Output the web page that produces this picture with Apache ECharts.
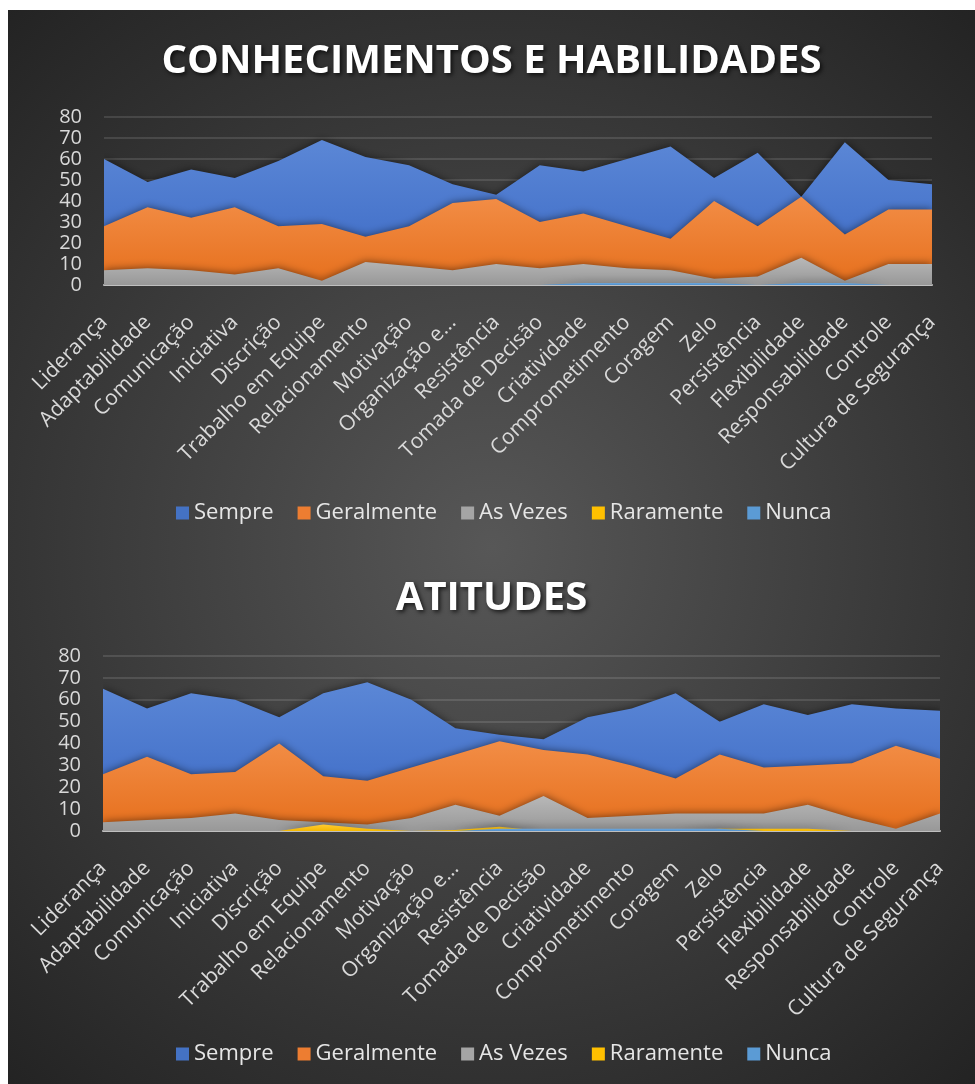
<!DOCTYPE html>
<html>
<head>
<meta charset="utf-8">
<script src="https://cdn.jsdelivr.net/npm/echarts@6/dist/echarts.min.js"></script>
<style>
  html, body { margin: 0; padding: 0; background: #fff; }
  #chart { position: absolute; left: 8px; top: 10px; width: 967px; height: 1074px; }
</style>
</head>
<body>
<div id="chart"></div>
<script>
const categories = ['Liderança', 'Adaptabilidade', 'Comunicação', 'Iniciativa', 'Discrição', 'Trabalho em Equipe', 'Relacionamento', 'Motivação', 'Organização e...', 'Resistência', 'Tomada de Decisão', 'Criatividade', 'Comprometimento', 'Coragem', 'Zelo', 'Persistência', 'Flexibilidade', 'Responsabilidade', 'Controle', 'Cultura de Segurança'];
const seriesNames = ['Sempre', 'Geralmente', 'As Vezes', 'Raramente', 'Nunca'];
const yTicks = [0, 80, 10]; // min, max, interval

// CONHECIMENTOS E HABILIDADES
const sempre1 = [60, 49, 55, 51, 59, 69, 61, 57, 48, 43, 57, 54, 60, 66, 51, 63, 42, 68, 50, 48];
const geralmente1 = [28, 37, 32, 37, 28, 29, 23, 28, 39, 41, 30, 34, 28, 22, 40, 28, 42, 24, 36, 36];
const asVezes1 = [7, 8, 7, 5, 8, 2, 11, 9, 7, 10, 8, 10, 8, 7, 3, 4, 13, 2, 10, 10];
const raramente1 = [0, 0, 0, 0, 0, 0, 0, 0, 0, 0, 0, 0, 0, 0, 0, 0, 0, 0, 0, 0];
const nunca1 = [0, 0, 0, 0, 0, 0, 0, 0, 0, 0, 0, 1, 1, 1, 1, 0, 1, 1, 0, 0];

// ATITUDES
const sempre2 = [65, 56, 63, 60, 52, 63, 68, 60, 47, 44, 42, 52, 56, 63, 50, 58, 53, 58, 56, 55];
const geralmente2 = [26, 34, 26, 27, 40, 25, 23, 29, 35, 41, 37, 35, 30, 24, 35, 29, 30, 31, 39, 33];
const asVezes2 = [4, 5, 6, 8, 5, 4, 3, 6, 12, 7, 16, 6, 7, 8, 8, 8, 12, 6, 1, 8];
const raramente2 = [0, 0, 0, 0, 0, 3, 1, 0, 0.5, 2, 0, 0, 0, 0, 1, 1, 1, 0, 0, 0];
const nunca2 = [0, 0, 0, 0, 0, 0, 0, 0, 0, 1, 1, 1, 1, 1, 1, 0, 0, 0, 0, 0];

const colors = ['#4472C4', '#ED7D31', '#A5A5A5', '#FFC000', '#5B9BD5'];
const gradTop = ['#5B87D6', '#F28D46', '#B8B8B8', '#FFCB33', '#6FA8DC'];
const gradBottom = ['#3A68C4', '#E66F1C', '#989898', '#F5B800', '#4F8FCC'];
const font = 'Open Sans';
const textColor = '#D9D9D9';

const chart = echarts.init(document.getElementById('chart'));

function makeSeries(data, gridIdx) {
  return data.map((vals, i) => ({
    name: seriesNames[i],
    type: 'line',
    xAxisIndex: gridIdx,
    yAxisIndex: gridIdx,
    data: vals,
    showSymbol: false,
    silent: true,
    lineStyle: { width: 0 },
    itemStyle: { color: colors[i] },
    areaStyle: {
      opacity: 1,
      color: new echarts.graphic.LinearGradient(0, 0, 0, 1, [
        { offset: 0, color: gradTop[i] },
        { offset: 1, color: gradBottom[i] }
      ]),
      shadowColor: 'rgba(0,0,0,0.55)',
      shadowBlur: 8
    }
  }));
}

function xAxis(gridIdx) {
  return {
    type: 'category',
    gridIndex: gridIdx,
    data: categories,
    boundaryGap: false,
    axisTick: { show: false },
    axisLine: { lineStyle: { color: '#BFBFBF', width: 2 } },
    axisLabel: { rotate: 45, interval: 0, color: textColor, fontFamily: font, fontSize: 21, margin: 34 }
  };
}

function yAxis(gridIdx) {
  return {
    type: 'value',
    gridIndex: gridIdx,
    min: yTicks[0],
    max: yTicks[1],
    interval: yTicks[2],
    axisLabel: { color: textColor, fontFamily: font, fontSize: 20, margin: 22 },
    splitLine: { lineStyle: { color: 'rgba(255,255,255,0.16)', width: 1.5 } }
  };
}

function legend(top) {
  return {
    top: top,
    left: 163,
    data: seriesNames,
    icon: 'rect',
    itemWidth: 13,
    itemHeight: 13,
    itemGap: 24,
    selectedMode: false,
    textStyle: { color: '#E6E6E6', fontFamily: font, fontSize: 22 }
  };
}

const titleStyle = {
  color: '#FFFFFF',
  fontFamily: font,
  fontWeight: 'bold',
  fontSize: 40,
  textShadowColor: 'rgba(0,0,0,0.7)',
  textShadowBlur: 4,
  textShadowOffsetX: 2,
  textShadowOffsetY: 2
};

chart.setOption({
  backgroundColor: new echarts.graphic.RadialGradient(0.5, 0.5, 0.75, [
    { offset: 0, color: '#575757' },
    { offset: 1, color: '#232323' }
  ]),
  title: [
    { text: 'CONHECIMENTOS E HABILIDADES', left: 'center', top: 27, textStyle: titleStyle },
    { text: 'ATITUDES', left: 'center', top: 564, textStyle: titleStyle }
  ],
  legend: [legend(487), legend(1028)],
  grid: [
    { left: 96, right: 43, top: 107, height: 168 },
    { left: 95, right: 35, top: 646, height: 175 }
  ],
  xAxis: [xAxis(0), xAxis(1)],
  yAxis: [yAxis(0), yAxis(1)],
  series: [
    ...makeSeries([sempre1, geralmente1, asVezes1, raramente1, nunca1], 0),
    ...makeSeries([sempre2, geralmente2, asVezes2, raramente2, nunca2], 1)
  ]
});
</script>
</body>
</html>
